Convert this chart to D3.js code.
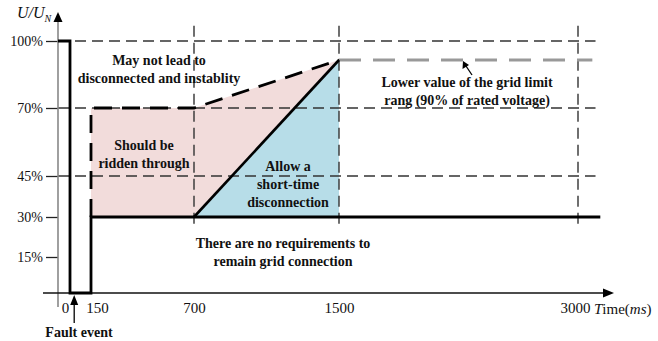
<!DOCTYPE html>
<html><head><meta charset="utf-8">
<script src="https://cdn.jsdelivr.net/npm/d3@7"></script>
<style>
body{margin:0;background:#fff}
svg text{font-family:"Liberation Serif","Times New Roman",Times,"Nimbus Roman","DejaVu Serif",serif !important;fill:#111}
</style>
</head><body>
<svg id="chart" width="658" height="341"></svg>
<script>
// Time axis (ms) and voltage axis (% of rated) ticks
const timeTicks = [0, 150, 700, 1500, 3000];
const voltageTicks = [15, 30, 45, 70, 100];
const gridVoltages = [45, 70, 100];
const gridTimes = [700, 1500, 3000];

// Voltage profile: pre-fault, dip to zero, partial recovery to 30%
const faultCurve = [[-80, 100], [0, 100], [0, 0], [150, 0], [150, 30], [3140, 30]];
// Recovery ramp separating the ride-through and short-disconnection zones
const recoveryRamp = [[700, 30], [1500, 90]];
// Upper boundary of the ride-through requirement
const rideThroughLimit = [[150, 30], [150, 70], [700, 70], [1500, 90]];
// Lower value of the grid limit range (90% of rated voltage)
const gridLowerLimit = [[1500, 90], [3090, 90]];
// Shaded zones
const rideThroughZone = [[150, 30], [150, 70], [700, 70], [1500, 90], [700, 30]];
const shortDisconnectZone = [[700, 30], [1500, 90], [1500, 30]];

const FONT = '"Liberation Serif","Times New Roman",Times,"DejaVu Serif",serif';
const svg = d3.select("#chart");

// Schematic (piecewise) axes
const x = d3.scaleLinear()
  .domain([-80, 0, 150, 700, 1500, 3000])
  .range([58, 70, 91, 194, 339, 578]);
const y = d3.scaleLinear()
  .domain([0, 15, 30, 45, 70, 90, 100])
  .range([293, 257, 217, 176, 108, 60, 41]);

const line = d3.line().x(d => x(d[0])).y(d => y(d[1]));

// Zones
svg.append("path").attr("d", line(rideThroughZone) + "Z").attr("fill", "#f2dcdb");
svg.append("path").attr("d", line(shortDisconnectZone) + "Z").attr("fill", "#b7dde8");

// Dashed reference grid
const gridStyle = sel => sel.attr("stroke", "#333").attr("stroke-width", 1.4)
  .attr("stroke-dasharray", "11,6").attr("fill", "none");
svg.append("g").selectAll("line").data(gridVoltages).join("line")
  .attr("x1", x(-80)).attr("x2", x(3110))
  .attr("y1", d => y(d)).attr("y2", d => y(d))
  .call(gridStyle);
svg.append("g").selectAll("line").data(gridTimes).join("line")
  .attr("x1", d => x(d)).attr("x2", d => x(d))
  .attr("y1", y(108)).attr("y2", y(25.5))
  .call(gridStyle);

// Y axis
const yAxis = svg.append("g").attr("transform", `translate(${x(-80)},0)`)
  .call(d3.axisLeft(y).tickValues(voltageTicks).tickSize(12).tickPadding(3)
    .tickFormat(d => d + "%"));
yAxis.attr("font-family", FONT);
yAxis.select(".domain").remove();
yAxis.selectAll(".tick line").attr("stroke", "#222").attr("stroke-width", 1.3);
yAxis.selectAll(".tick text").attr("font-size", 14).attr("fill", "#111");
svg.append("line").attr("x1", x(-80)).attr("x2", x(-80)).attr("y1", 20).attr("y2", 307)
  .attr("stroke", "#888").attr("stroke-width", 1.6);
svg.append("path").attr("d", `M${x(-80)},12 L${x(-80) - 4.5},22 L${x(-80) + 4.5},22 Z`).attr("fill", "#000");

// X axis
const xAxis = svg.append("g").attr("transform", `translate(0,${y(0)})`)
  .call(d3.axisBottom(x).tickValues(timeTicks).tickSize(0).tickPadding(9)
    .tickFormat(d3.format("d")));
xAxis.attr("font-family", FONT);
xAxis.select(".domain").remove();
xAxis.selectAll(".tick text").attr("font-size", 15).attr("fill", "#111")
  .attr("dx", d => d === 0 ? -5 : d === 150 ? 6 : d === 3000 ? -3 : 0);
svg.append("line").attr("x1", 43).attr("x2", 604).attr("y1", y(0)).attr("y2", y(0))
  .attr("stroke", "#111").attr("stroke-width", 1.3);
svg.append("path").attr("d", `M614,${y(0)} L603,${y(0) - 4.5} L603,${y(0) + 4.5} Z`).attr("fill", "#000");
const tLabel = svg.append("text").attr("x", 594).attr("y", y(0) + 20.5).attr("font-size", 15);
tLabel.append("tspan").attr("font-style", "italic").text("T");
tLabel.append("tspan").text("ime(");
tLabel.append("tspan").attr("font-style", "italic").text("ms");
tLabel.append("tspan").text(")");

// Y axis title
const uLabel = svg.append("text").attr("x", 17).attr("y", 18).attr("font-size", 16).attr("font-style", "italic");
uLabel.append("tspan").text("U");
uLabel.append("tspan").text("/");
uLabel.append("tspan").text("U");
uLabel.append("tspan").attr("font-size", 10).attr("dy", 4).text("N");

// Grid lower limit (grey dashed)
svg.append("path").attr("d", line(gridLowerLimit)).attr("fill", "none")
  .attr("stroke", "#999").attr("stroke-width", 2.8).attr("stroke-dasharray", "22,12");

// Annotations
const notes = [
  {x: 159, y: 65, lines: ["May not lead to", "disconnected and instablity"]},
  {x: 144, y: 150, lines: ["Should be", "ridden through"]},
  {x: 288, y: 171, lines: ["Allow a", "short-time", "disconnection"]},
  {x: 283, y: 248, lines: ["There are no requirements to", "remain grid connection"]},
  {x: 467, y: 87, lines: ["Lower value of the grid limit", "rang (90% of rated voltage)"]}
];
notes.forEach(n => {
  const t = svg.append("text").attr("text-anchor", "middle").attr("font-size", 14).attr("font-weight", "bold");
  n.lines.forEach((s, i) => t.append("tspan").attr("x", n.x).attr("y", n.y + i * 18).text(s));
});

// Ride-through limit (black dashed)
svg.append("path").attr("d", line(rideThroughLimit)).attr("fill", "none")
  .attr("stroke", "#000").attr("stroke-width", 2.8).attr("stroke-dasharray", "18,10");

// Voltage profile and recovery ramp
svg.append("path").attr("d", line(faultCurve)).attr("fill", "none")
  .attr("stroke", "#000").attr("stroke-width", 2.8).attr("stroke-linejoin", "miter");
svg.append("path").attr("d", line(recoveryRamp)).attr("fill", "none")
  .attr("stroke", "#000").attr("stroke-width", 2.6);

// Pointer to the grid lower limit
svg.append("line").attr("x1", 472).attr("y1", 75).attr("x2", 466).attr("y2", 66)
  .attr("stroke", "#000").attr("stroke-width", 1.3);
svg.append("path").attr("d", "M463,61 L462.5,69 L469,65 Z").attr("fill", "#000");

// Fault event marker
const fx = x(30);
svg.append("line").attr("x1", fx).attr("x2", fx).attr("y1", 323).attr("y2", 302)
  .attr("stroke", "#000").attr("stroke-width", 1.3);
svg.append("path").attr("d", `M${fx},295 L${fx - 4},305 L${fx + 4},305 Z`).attr("fill", "#000");
svg.append("text").attr("x", 79).attr("y", 337).attr("text-anchor", "middle")
  .attr("font-size", 14).attr("font-weight", "bold").text("Fault event");
</script>
</body></html>
